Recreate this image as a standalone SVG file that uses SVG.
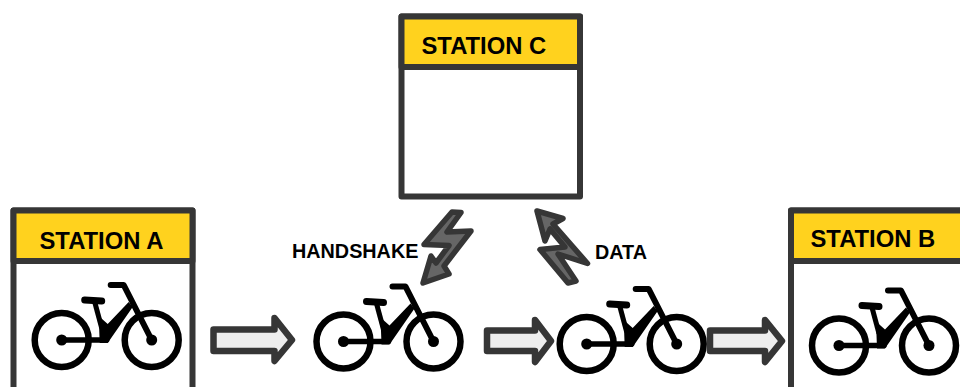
<svg xmlns="http://www.w3.org/2000/svg" width="960" height="387" viewBox="0 0 960 387">
<style>
.box{fill:#fff;stroke:#363636;stroke-width:6;stroke-linejoin:round}
.head{fill:#ffd21e;stroke:#363636;stroke-width:6;stroke-linejoin:round}
.lbl{font-family:"Liberation Sans",Arial,sans-serif;font-weight:700;fill:#000}
.st{font-size:23.8px}
.cap{font-size:19.8px}
.arrow{fill:#eeeeee;stroke:#363636;stroke-width:6.5;stroke-linejoin:round}
.bolt{fill:#666666;stroke:#363636;stroke-width:5.5;stroke-linejoin:round}
</style>
<defs>
<filter id="soft" x="-5%" y="-5%" width="110%" height="110%"><feGaussianBlur stdDeviation="0.5"/></filter>
<g id="bike" filter="url(#soft)">
<circle cx="0" cy="0" r="27" fill="none" stroke="#000" stroke-width="6.500"/>
<circle cx="90" cy="0" r="27" fill="none" stroke="#000" stroke-width="6.500"/>
<circle cx="0" cy="0" r="5.500" fill="#000"/>
<circle cx="90" cy="0" r="5.500" fill="#000"/>
<path d="M0 0H45" fill="none" stroke="#000" stroke-width="5.500" stroke-linecap="round"/>
<path d="M49 -55H62L90 0" fill="none" stroke="#000" stroke-width="6" stroke-linecap="round" stroke-linejoin="round"/>
<path d="M23 -40L40 -39" fill="none" stroke="#000" stroke-width="7" stroke-linecap="round"/>
<path d="M33 -38L40 -12" fill="none" stroke="#000" stroke-width="5"/>
<path d="M37 -24L46 -16L67 -38L71 -33L46 3H38Z" fill="#000"/>
</g>
</defs>
<g id="station-c">
<rect class="box" x="401.500" y="16.500" width="178.500" height="180"/>
<rect class="head" x="401.500" y="16.500" width="178.500" height="50.500"/>
<text class="lbl st" x="421.500" y="54">STATION C</text>
</g>
<g id="station-a">
<rect class="box" x="13.500" y="210.500" width="179" height="190"/>
<rect class="head" x="13.500" y="210.500" width="179" height="50.500"/>
<text class="lbl st" x="39.500" y="249">STATION A</text>
</g>
<g id="station-b">
<rect class="box" x="791" y="210.500" width="190" height="190"/>
<rect class="head" x="791" y="210.500" width="190" height="50.500"/>
<text class="lbl st" x="810.500" y="247">STATION B</text>
</g>
<g id="bike-a"><use href="#bike" x="61.700" y="340"/></g>
<g id="bike-handshake"><use href="#bike" x="343.500" y="341.500"/></g>
<g id="bike-data"><use href="#bike" x="586.700" y="344"/></g>
<g id="bike-b"><use href="#bike" x="839" y="345.500"/></g>
<g id="connectors">
<path class="arrow" d="M213.500 329.500H274.500V318L292 340L274.500 361V351H213.500Z"/>
<path class="arrow" d="M487 330.500H535V320L551 341L535 362V351H487Z"/>
<path class="arrow" d="M710 330.500H765V320L782 341L765 362V351H710Z"/>
<path class="bolt" d="M452 212L461 212.500L447 232L471 231L444 266L449 274L423 283L431 256L436 263L449 245.500L424 244.500Z"/>
<path class="bolt" d="M537 211L563 218.500L553 224L587.500 263.500L558 254L576 281L568 283L540 249.500L565 247L550 229L545 241Z"/>
</g>
<g id="labels">
<text class="lbl cap" x="292" y="258">HANDSHAKE</text>
<text class="lbl cap" x="595" y="259">DATA</text>
</g>
</svg>
